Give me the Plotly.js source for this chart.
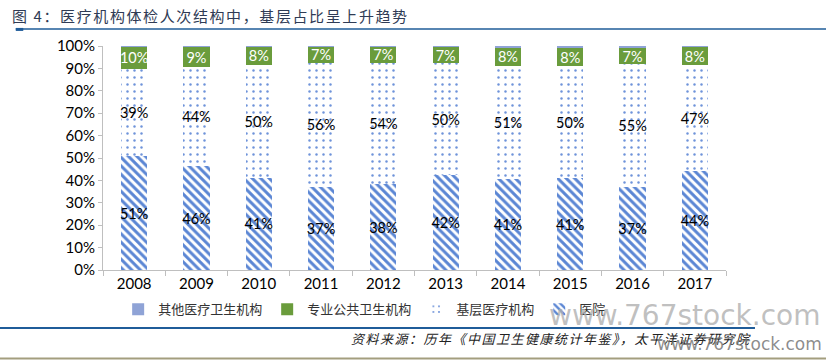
<!DOCTYPE html>
<html>
<head>
<meta charset="utf-8">
<script src="https://cdn.plot.ly/plotly-3.0.1.min.js"></script>
<style>
html,body{margin:0;padding:0;background:#fff;}
#chart{width:826px;height:360px;}
g.annotation[data-index="0"] text{letter-spacing:1.6px;}
g.annotation[data-index="2"] text{letter-spacing:1.5px;}
</style>
</head>
<body>
<div id="chart"></div>
<script>
const years = ['2008','2009','2010','2011','2012','2013','2014','2015','2016','2017'];
const hospital = [51, 46, 41, 37, 38, 42, 41, 41, 37, 44];
const basic = [39, 44, 50, 56, 54, 50, 51, 50, 55, 47];
const publicHealth = [10, 9, 8, 7, 7, 7, 8, 8, 7, 8];
const other = [0.3, 0.4, 0.4, 0.4, 0.4, 0.5, 0.8, 1.0, 1.0, 0.6];
const yTicks = [0, 10, 20, 30, 40, 50, 60, 70, 80, 90, 100];
const names = ['医院', '基层医疗机构', '专业公共卫生机构', '其他医疗卫生机构'];

const font = 'Lato, "Open Sans", "Noto Sans CJK SC", sans-serif';
const cjk = '"Noto Sans CJK SC", sans-serif';
const pct = a => a.map(v => v + '%');

const traces = [
  {
    type: 'bar', name: names[0], x: years, y: hospital, text: pct(hospital),
    textposition: 'inside', insidetextanchor: 'middle', constraintext: 'none', textangle: 0,
    textfont: {color: '#000', size: 14.5, family: font},
    marker: {color: '#ffffff', pattern: {shape: '\\', fgcolor: '#5B86D4', bgcolor: '#ffffff', size: 6, solidity: 0.5}},
    hoverinfo: 'none'
  },
  {
    type: 'bar', name: names[1], x: years, y: basic, text: pct(basic),
    textposition: 'inside', insidetextanchor: 'middle', constraintext: 'none', textangle: 0,
    textfont: {color: '#000', size: 14.5, family: font},
    marker: {color: '#ffffff', pattern: {shape: '.', fgcolor: '#6E93DA', bgcolor: '#ffffff', size: 7, solidity: 0.1}},
    hoverinfo: 'none'
  },
  {
    type: 'bar', name: names[2], x: years, y: publicHealth, text: pct(publicHealth),
    textposition: 'inside', insidetextanchor: 'middle', constraintext: 'none', textangle: 0,
    textfont: {color: '#ffffff', size: 14.5, family: font},
    marker: {color: '#6A9C3C'},
    hoverinfo: 'none'
  },
  {
    type: 'bar', name: names[3], x: years, y: other, text: '',
    textposition: 'none',
    marker: {color: '#8FA3D6'},
    hoverinfo: 'none'
  }
];

const layout = {
  width: 826, height: 360,
  margin: {l: 103, r: 100, t: 46, b: 90},
  paper_bgcolor: '#ffffff', plot_bgcolor: '#ffffff',
  barmode: 'stack', barnorm: 'percent', bargap: 0.58,
  showlegend: true,
  legend: {
    orientation: 'h', traceorder: 'reversed', x: 0.42, xanchor: 'center',
    y: -0.175, yanchor: 'middle', font: {family: cjk, size: 13, color: '#333'},
    itemwidth: 30, bgcolor: 'rgba(0,0,0,0)'
  },
  xaxis: {
    type: 'category', showgrid: false, showline: true, linecolor: '#BFBFBF', linewidth: 1,
    ticks: 'outside', tickson: 'boundaries', ticklen: 5, tickcolor: '#BFBFBF',
    tickfont: {family: font, size: 15, color: '#000'}, fixedrange: true
  },
  yaxis: {
    range: [0, 100], tickvals: yTicks, ticktext: yTicks.map(v => v + '%'),
    showgrid: false, zeroline: false, showline: true, linecolor: '#BFBFBF', linewidth: 1,
    ticks: 'outside', ticklen: 4, tickcolor: '#BFBFBF',
    tickfont: {family: font, size: 15, color: '#000'}, fixedrange: true
  },
  shapes: [
    {type: 'line', xref: 'paper', yref: 'paper', x0: -0.14, x1: 1.2, y0: 1.076, y1: 1.076, line: {color: '#1F5C99', width: 1.5}},
    {type: 'line', xref: 'paper', yref: 'paper', x0: -0.14, x1: -0.128, y0: 1.074, y1: 1.074, line: {color: '#1F5C99', width: 3}},
    {type: 'line', xref: 'paper', yref: 'paper', x0: -0.166, x1: 1.0465, y0: -0.259, y1: -0.259, line: {color: '#1F5C99', width: 2}},
    {type: 'line', xref: 'paper', yref: 'paper', x0: -0.166, x1: 1.2, y0: -0.395, y1: -0.395, line: {color: '#A39E7E', width: 2}}
  ],
  annotations: [
    {text: '图 4：医疗机构体检人次结构中，基层占比呈上升趋势', xref: 'paper', yref: 'paper',
     x: 0.172, y: 1.135, xanchor: 'center', yanchor: 'middle', showarrow: false,
     font: {family: cjk, size: 15, color: '#2F3B55'}},
    {text: 'www.767stock.com', xref: 'paper', yref: 'paper',
     x: 0.933, y: -0.205, xanchor: 'center', yanchor: 'middle', showarrow: false,
     font: {family: '"DejaVu Sans", sans-serif', size: 28, color: 'rgba(175,175,175,0.8)'}},
    {text: '<i>资料来源：历年《中国卫生健康统计年鉴》，太平洋证券研究院</i>', xref: 'paper', yref: 'paper',
     x: 0.7215, y: -0.304, xanchor: 'center', yanchor: 'middle', showarrow: false,
     font: {family: cjk, size: 13, color: '#222'}},
    {text: 'www.767stock.com', xref: 'paper', yref: 'paper',
     x: 1.021, y: -0.33, xanchor: 'center', yanchor: 'middle', showarrow: false,
     font: {family: '"DejaVu Sans", sans-serif', size: 17, color: 'rgba(120,120,120,0.85)'}}
  ]
};

Plotly.newPlot('chart', traces, layout, {displayModeBar: false, staticPlot: true});
</script>
</body>
</html>
